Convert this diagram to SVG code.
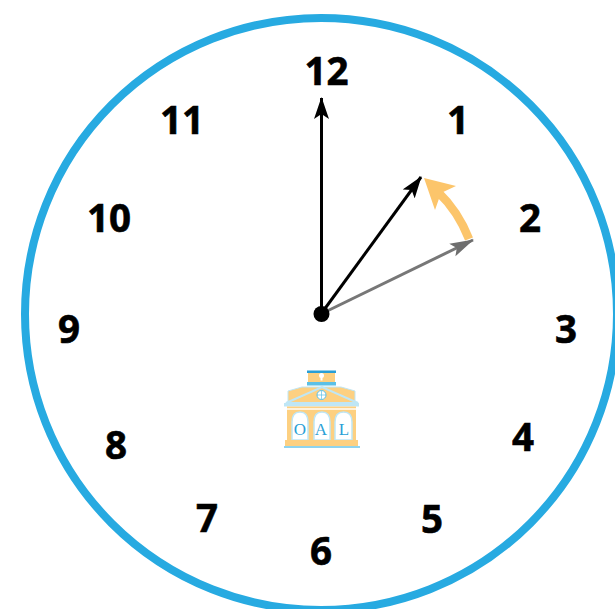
<svg xmlns="http://www.w3.org/2000/svg" width="615" height="609" viewBox="0 0 615 609">
<style>
.n{font-family:"Open Sans","Liberation Sans",sans-serif;font-weight:700;font-size:38.500px;fill:#000;stroke:#000;stroke-width:0.600;text-anchor:middle}
.o{fill:#fdd081}
.a{fill:#fff;stroke:#bfe6f5;stroke-width:1.500}
.l{font-family:"Liberation Serif",serif;font-size:17px;fill:#2a9fd6;text-anchor:middle}
</style>
<defs>
<marker id="ak" markerUnits="userSpaceOnUse" markerWidth="22" markerHeight="16" refX="21" refY="8" orient="auto" viewBox="0 0 22 16"><path d="M0 0.500L22 8L0 15.500L5 8Z" fill="#000"/></marker>
<marker id="ag" markerUnits="userSpaceOnUse" markerWidth="24" markerHeight="16" refX="23" refY="8" orient="auto" viewBox="0 0 24 16"><path d="M0 1L24 8L0 15L5 8Z" fill="#6e6e6e"/></marker>
</defs>
<rect width="615" height="609" fill="#fff"/>
<g id="clock-face"><circle cx="321" cy="314" r="296" fill="#fff" stroke="#27aae1" stroke-width="8"/></g>
<g id="numbers">
<text class="n" x="326.500" y="85">12</text>
<text class="n" x="458" y="134">1</text>
<text class="n" x="530" y="232">2</text>
<text class="n" x="566" y="343">3</text>
<text class="n" x="523" y="451">4</text>
<text class="n" x="432" y="533">5</text>
<text class="n" x="321" y="565">6</text>
<text class="n" x="207" y="532">7</text>
<text class="n" x="116" y="459">8</text>
<text class="n" x="69" y="343">9</text>
<text class="n" x="109" y="232">10</text>
<text class="n" x="182" y="134">11</text>
</g>
<g id="connectors" fill="none">
<path d="M321.500 314L321.500 98" stroke="#000" stroke-width="3" marker-end="url(#ak)"/>
<path d="M321 314L421 177" stroke="#000" stroke-width="3" marker-end="url(#ak)"/>
<path d="M321 314L473 240" stroke="#777" stroke-width="3" marker-end="url(#ag)"/>
<path d="M469 239Q458 211 438 192" stroke="#fcc56b" stroke-width="8.500"/>
<path d="M424 178L456 186L441 193L435 210Z" fill="#fcc56b"/>
</g>
<g id="pivot"><circle cx="321.500" cy="314" r="8" fill="#000"/></g>
<g id="building">
<rect class="o" x="308" y="372" width="27" height="12"/>
<rect x="307" y="370.500" width="29" height="2.500" fill="#2a9fd6"/>
<rect x="307" y="382" width="29" height="3.500" fill="#5cc0e6"/>
<circle cx="321.500" cy="375.500" r="2.500" fill="#fff"/>
<rect x="320.500" y="376" width="2" height="4.500" fill="#fff"/>
<path d="M288 391L302 387H341L355 391V404H288Z" class="o" stroke="#bfe6f5"/>
<path d="M286 403L322 387L358 403Z" fill="#fdd081" stroke="#bfe6f5" stroke-width="2"/>
<circle cx="321.500" cy="395" r="4.500" fill="#fff" stroke="#5cc0e6"/>
<path d="M317 395H326M321.500 390.500V399.500" stroke="#5cc0e6" stroke-width="0.700"/>
<rect x="284" y="403" width="75" height="3.500" fill="#bfe6f5"/>
<rect class="o" x="287" y="406.500" width="69" height="34"/>
<rect x="287" y="408" width="69" height="2" fill="#fff" opacity="0.700"/>
<path class="a" d="M292 440V422Q292 412 300 412Q308 412 308 422V440Z"/>
<path class="a" d="M314 440V422Q314 412 322 412Q330 412 330 422V440Z"/>
<path class="a" d="M335 440V422Q335 412 343.500 412Q352 412 352 422V440Z"/>
<text class="l" x="300" y="435">O</text>
<text class="l" x="321" y="435">A</text>
<text class="l" x="344" y="435">L</text>
<rect x="285" y="440" width="73" height="6" fill="#fdd081"/>
<rect x="284" y="446" width="76" height="2" fill="#8fd3ee"/>
</g>
</svg>
